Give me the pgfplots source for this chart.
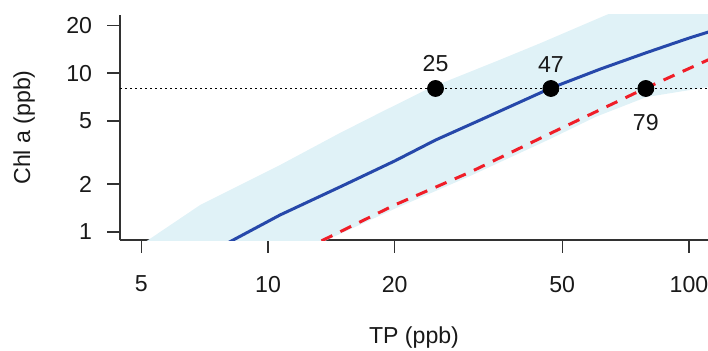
\documentclass[border=0pt]{standalone}
\usepackage{fontspec}
\setmainfont{Liberation Sans}
\usepackage{pgfplots}
\pgfplotsset{compat=1.18}
\definecolor{bandc}{RGB}{224,242,247}
\definecolor{bluec}{RGB}{38,72,170}
\definecolor{redc}{RGB}{240,30,40}
\definecolor{axc}{RGB}{50,50,50}
\begin{document}
\begin{tikzpicture}
\useasboundingbox (-60bp,-55.5bp) rectangle (294bp,120bp);
\begin{axis}[
  at={(0,0)}, anchor=south west,
  scale only axis, width=294bp, height=112.5bp,
  xmode=log, ymode=log,
  xmin=4.45, xmax=111, ymin=0.891, ymax=23.2,
  axis x line=bottom, axis y line=left,
  axis line style={-, axc, line width=0.7bp},
  xtick={5,10,20,50,100}, xticklabels={5,10,20,50,100},
  ytick={1,2,5,10,20}, yticklabels={1,2,5,10,20},
  minor xtick={}, minor ytick={},
  tick align=outside, major tick length=6.5bp,
  tick style={axc, line width=0.7bp},
  every tick label/.append style={font=\fontsize{11.6}{13}\selectfont, text=black!90},
  xticklabel style={anchor=north, yshift=-8bp},
  yticklabel style={anchor=east, xshift=-4bp},
  xlabel={TP (ppb)}, ylabel={Chl a (ppb)},
  every axis x label/.style={at={(axis description cs:0.5,0)}, anchor=center, yshift=-49bp, font=\fontsize{11.6}{13}\selectfont, text=black!90},
  every axis y label/.style={at={(axis description cs:-0.163,0.5)}, anchor=center, rotate=90, font=\fontsize{11.6}{13}\selectfont, text=black!90},
  clip=true,
]
% credible band (upper edge, then lower edge reversed)
\addplot[fill=bandc, draw=none] coordinates {
 (4.84,0.80) (5.19,0.89) (6.9,1.48) (10.68,2.64) (14.8,4.19) (18.4,5.61) (24.2,8.05)
 (35.5,12.1) (44.3,15.4) (63.6,23.2) (120,45)
 (120,8.4) (111,8.17) (79.2,7.06) (60,5.3) (46.7,3.84) (30.2,2.25) (20,1.40) (13.66,0.88) (12.8,0.80)
} -- cycle;
% median fit
\addplot[bluec, line width=1.5bp] coordinates {
 (8.0,0.85) (8.26,0.89) (10.68,1.28) (15,1.95) (20,2.80) (25,3.79) (31.9,5.06) (47,8.05)
 (61.6,10.6) (79,13.4) (100,16.6) (111,18.1) (120,19.2)
};
% lower dashed
\addplot[redc, line width=1.5bp, dash pattern=on 6bp off 4.5bp] coordinates {
 (13.4,0.88) (20,1.48) (30.2,2.38) (47,4.19) (79,8.05) (111,12.1) (120,13.2)
};
% criterion
\addplot[black, line width=0.6bp, dash pattern=on 1bp off 1.5bp] coordinates {(4.45,8) (111,8)};
\addplot[only marks, mark=*, mark size=4bp, black] coordinates {(25,8) (47,8) (79,8)};
\node[anchor=south, inner sep=0pt, yshift=8bp, font=\fontsize{11.6}{13}\selectfont, text=black!90] at (axis cs:25,8) {25};
\node[anchor=south, inner sep=0pt, yshift=8bp, font=\fontsize{11.6}{13}\selectfont, text=black!90] at (axis cs:47,8) {47};
\node[anchor=north, inner sep=0pt, yshift=-12.5bp, font=\fontsize{11.6}{13}\selectfont, text=black!90] at (axis cs:79,8) {79};
\end{axis}
\end{tikzpicture}
\end{document}
